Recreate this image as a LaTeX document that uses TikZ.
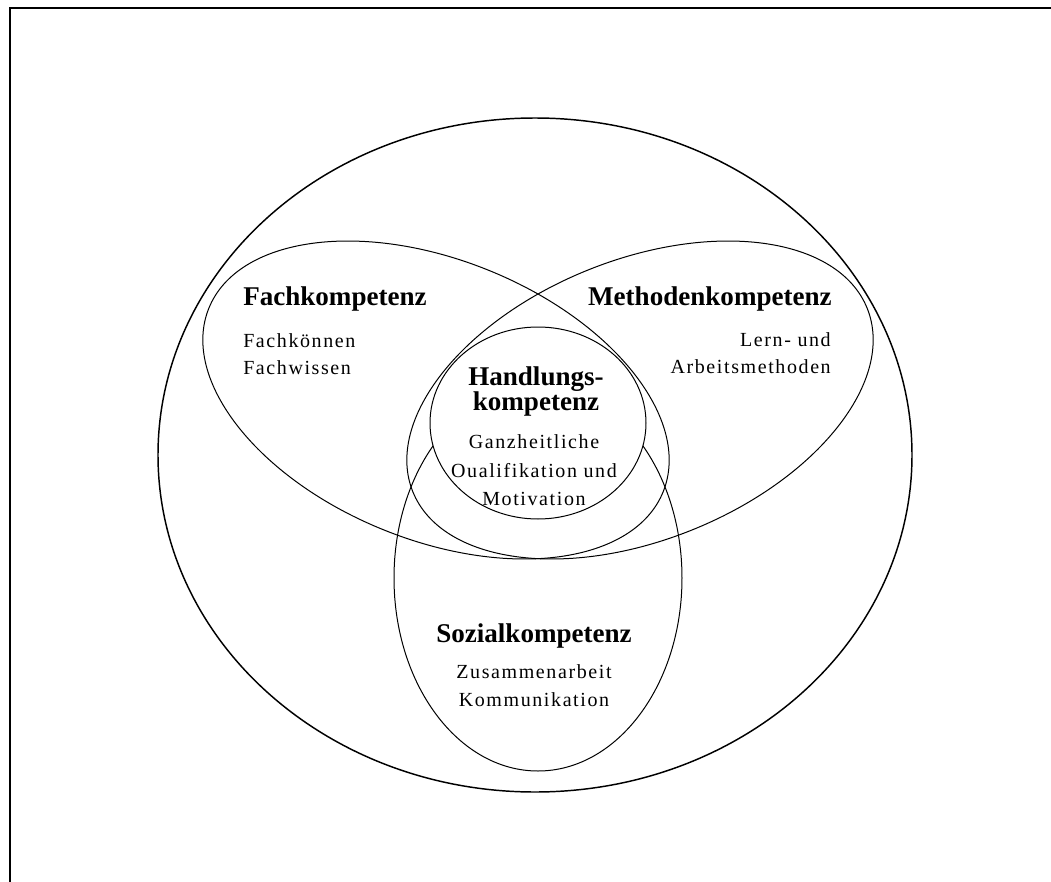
\documentclass[tikz,border=0pt]{standalone}
\usepackage{fontspec}
\setmainfont{Liberation Serif}
\newfontfamily\subfont{Liberation Serif}[LetterSpace=8]

\begin{document}
\begin{tikzpicture}[
    x=0.75pt, y=-0.75pt,
    head node/.style={inner sep=0pt, font=\fontsize{20.3}{24}\selectfont\bfseries},
    sub node/.style={inner sep=0pt, font=\fontsize{15}{18}\subfont},
    ring/.style={draw=black, line width=0.75pt},
    outer ring/.style={draw=black, line width=1.1pt},
    frame line/.style={draw=black, line width=2pt}
]
\useasboundingbox (0,0) rectangle (1051,882);

% Rahmen
\draw[frame line] (10,882) -- (10,8) -- (1051,8);

% Ellipsen
\draw[outer ring] (535,455) ellipse [x radius=377, y radius=337];
\draw[ring, rotate around={-22:(436,400)}] (436,400) ellipse [x radius=245, y radius=140];
\draw[ring, rotate around={22:(640,400)}] (640,400) ellipse [x radius=245, y radius=140];
\draw[ring] (538,578) ellipse [x radius=144, y radius=193];
\draw[ring, fill=white] (538,423) ellipse [x radius=108, y radius=96];

% Fachkompetenz
\node[head node, anchor=base west] (fach) at (243,305) {Fachkompetenz};
\node[sub node, anchor=base west] (fachkoennen) at (243,347) {Fachkönnen};
\node[sub node, anchor=base west] (fachwissen) at (243,374) {Fachwissen};

% Methodenkompetenz
\node[head node, anchor=base east] (methoden) at (832,305) {Methodenkompetenz};
\node[sub node, anchor=base east] (lernen) at (831,346) {Lern- und};
\node[sub node, anchor=base east] (arbeit) at (831,373) {Arbeitsmethoden};

% Handlungskompetenz
\node[head node, anchor=base] (handlungs) at (536,385) {Handlungs-};
\node[head node, anchor=base] (kompetenz) at (536,410) {kompetenz};
\node[sub node, anchor=base] (ganz) at (534,448) {Ganzheitliche};
\node[sub node, anchor=base] (quali) at (534,477) {Oualifikation und};
\node[sub node, anchor=base] (motiv) at (534,505) {Motivation};

% Sozialkompetenz
\node[head node, anchor=base] (sozial) at (534,642) {Sozialkompetenz};
\node[sub node, anchor=base] (zusammen) at (534,678) {Zusammenarbeit};
\node[sub node, anchor=base] (kommu) at (534,706) {Kommunikation};

\end{tikzpicture}
\end{document}
